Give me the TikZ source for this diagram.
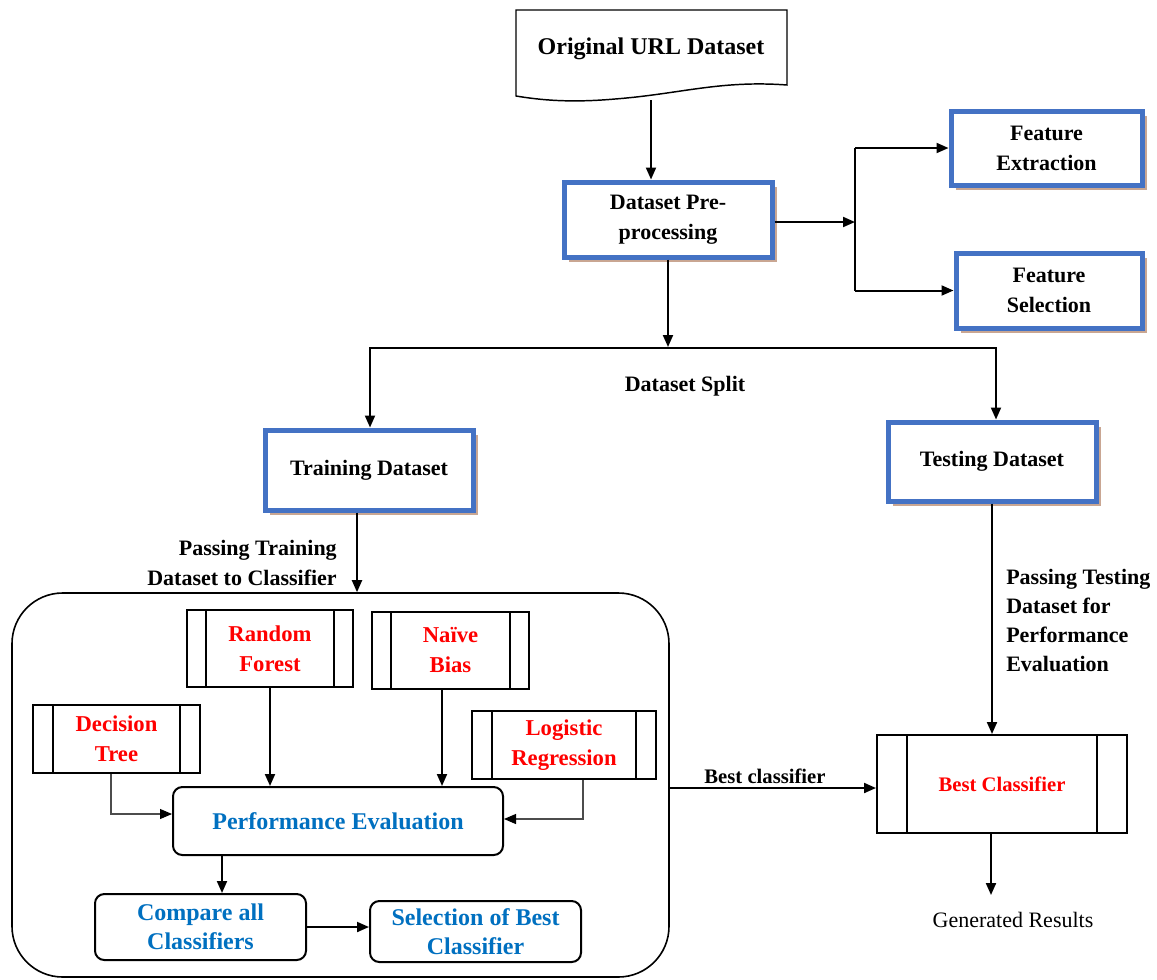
\documentclass[tikz,border=0pt]{standalone}
\usepackage{fontspec}
\setmainfont{Liberation Serif}
\usetikzlibrary{arrows.meta,shadows,calc}
\definecolor{boxblue}{HTML}{4472C4}
\definecolor{shadowtan}{HTML}{C9A692}
\definecolor{txtred}{HTML}{FF0000}
\definecolor{txtblue}{HTML}{0070C0}
% two inner bars of a predefined-process box
\newcommand\sidebars[2]{%
  \draw[line width=1.5pt] ([xshift=#2]#1.north west) -- ([xshift=#2]#1.south west);
  \draw[line width=1.5pt] ([xshift=-#2]#1.north east) -- ([xshift=-#2]#1.south east);}
\begin{document}
\begin{tikzpicture}[x=0.75pt,y=-0.75pt,
  blacktxt/.style={font=\fontsize{16.5}{22.5}\selectfont\bfseries, align=center},
  redtxt/.style={font=\fontsize{17}{22.5}\selectfont\bfseries, text=txtred, align=center},
  bluetxt/.style={font=\fontsize{18}{22}\selectfont\bfseries, text=txtblue, align=center},
  sized/.style 2 args={minimum width=#1, minimum height=#2},
  bluebox/.style={draw=boxblue, line width=3.75pt, fill=white, inner sep=0pt, blacktxt,
    drop shadow={shadow xshift=3.5pt, shadow yshift=-3.5pt, fill=shadowtan, opacity=1}},
  procbox/.style={draw, line width=1.5pt, fill=white, inner sep=0pt, redtxt},
  roundbox/.style={draw, line width=1.5pt, rounded corners=7pt, fill=white, inner sep=0pt, bluetxt},
  arr/.style={line width=1.5pt, -{Triangle[length=9pt,width=7.5pt]}},
  thinarr/.style={line width=0.8pt, draw=black!70, -{Triangle[length=9pt,width=7.5pt,color=black]}},
  link/.style={line width=1.5pt},
  lbl/.style={blacktxt, inner sep=0pt},
]
\path[use as bounding box, fill=white] (0,0) rectangle (1157,979);

% source dataset (document shape)
\draw[line width=1.1pt, fill=white] (516,10) -- (787,10) -- (787,85)
  .. controls (720,80) and (680,94) .. (615,99)
  .. controls (570,103) and (540,100) .. (516,96) -- cycle;
\node[blacktxt, font=\fontsize{18}{22}\selectfont\bfseries] (orig) at (651,49) {Original URL Dataset};
\coordinate (origb) at (651,100);

% preprocessing stage
\node[bluebox, sized={156pt}{56.25pt}] (pre) at (668,219.5) {Dataset Pre-\\processing};
\node[bluebox, sized={143.25pt}{55.5pt}] (fext) at (1046.5,148) {Feature\\Extraction};
\node[bluebox, sized={139.5pt}{56.25pt}] (fsel) at (1049,290.5) {Feature\\Selection};

\draw[arr] (origb) -- (origb |- pre.north);
\coordinate (fork) at (855,222);
\draw[arr] (pre.east |- fork) -- (fork);
\draw[link] (fext.west -| fork) -- (fsel.west -| fork);
\draw[arr] (fext.west -| fork) -- (fext.west);
\draw[arr] (fsel.west -| fork) -- (fsel.west);

% dataset split
\node[bluebox, sized={156pt}{60pt}] (train) at (369,470) {Training Dataset};
\node[bluebox, sized={156pt}{59.25pt}] (test) at (992,461.5) {Testing Dataset};
\coordinate (splitc) at (668,347);
\coordinate (splitl) at (370,348);
\coordinate (splitr) at (996,348);
\draw[arr] (pre.south) -- (splitc);
\draw[arr] (splitc |- splitl) -| (splitl |- train.north);
\draw[arr] (splitc |- splitr) -| (splitr |- test.north);
\node[lbl] (splitlbl) at (685,386) {Dataset Split};

% classifier container
\node[draw, line width=1.2pt, rounded corners=38pt, inner sep=0pt, sized={492.75pt}{288pt}] (models) at (340.5,785) {};
\coordinate (trainx) at (357,0);
\draw[arr] (train.south -| trainx) -- (models.north -| trainx);
\node[lbl, anchor=east, align=right] (passtrain) at (337,563) {Passing Training\\Dataset to Classifier};

\node[procbox, sized={124.5pt}{57.75pt}] (rf) at (270,648.5) {Random\\Forest};
\node[procbox, sized={117.75pt}{57.75pt}] (nb) at (450.5,650.5) {Naïve\\Bias};
\node[procbox, sized={125.25pt}{51pt}] (dt) at (116.5,739) {Decision\\Tree};
\node[procbox, sized={138pt}{51pt}] (lr) at (564,745) {Logistic\\Regression};
\sidebars{rf}{15pt}
\sidebars{nb}{15pt}
\sidebars{dt}{15.5pt}
\sidebars{lr}{16pt}

\node[roundbox, sized={247.5pt}{51pt}] (pe) at (338,821) {Performance Evaluation};
\node[roundbox, sized={158.25pt}{49.5pt}] (cmp) at (200.5,927) {Compare all\\Classifiers};
\node[roundbox, sized={158.25pt}{45.75pt}] (sel) at (475.5,931.5) {Selection of Best\\Classifier};

\draw[arr] (rf.south) -- (rf.south |- pe.north);
\coordinate (nbx) at (442,0);
\draw[arr] (nb.south -| nbx) -- (pe.north -| nbx);
\coordinate (dtx) at (111,814);
\draw[thinarr] (dt.south -| dtx) |- (pe.west |- dtx);
\coordinate (lrx) at (583,819);
\draw[thinarr] (lr.south -| lrx) |- (pe.east |- lrx);
\coordinate (pex) at (222,0);
\draw[arr] (pe.south -| pex) -- (cmp.north -| pex);
\draw[arr] (cmp.east) -- (cmp.east -| sel.west);

% testing path and result
\node[procbox, font=\fontsize{15.5}{20}\selectfont\bfseries, sized={187.5pt}{73.5pt}] (best) at (1002,784) {Best Classifier};
\sidebars{best}{23pt}
\coordinate (bx) at (0,788);
\draw[arr] (models.east |- bx) -- (best.west |- bx);
\node[lbl, font=\fontsize{15.5}{20}\selectfont\bfseries] (bestlbl) at (765,776) {Best classifier};
\draw[arr] (test.south) -- (test.south |- best.north);
\node[lbl, anchor=west, align=left, font=\fontsize{16.5}{21.75}\selectfont\bfseries] (passtest) at (1006,620) {Passing Testing\\Dataset for\\Performance\\Evaluation};
\coordinate (gen) at (991,895);
\draw[arr] (best.south -| gen) -- (gen);
\node[font=\fontsize{16.5}{20}\selectfont, inner sep=0pt] (results) at (1013,920) {Generated Results};
\end{tikzpicture}
\end{document}
